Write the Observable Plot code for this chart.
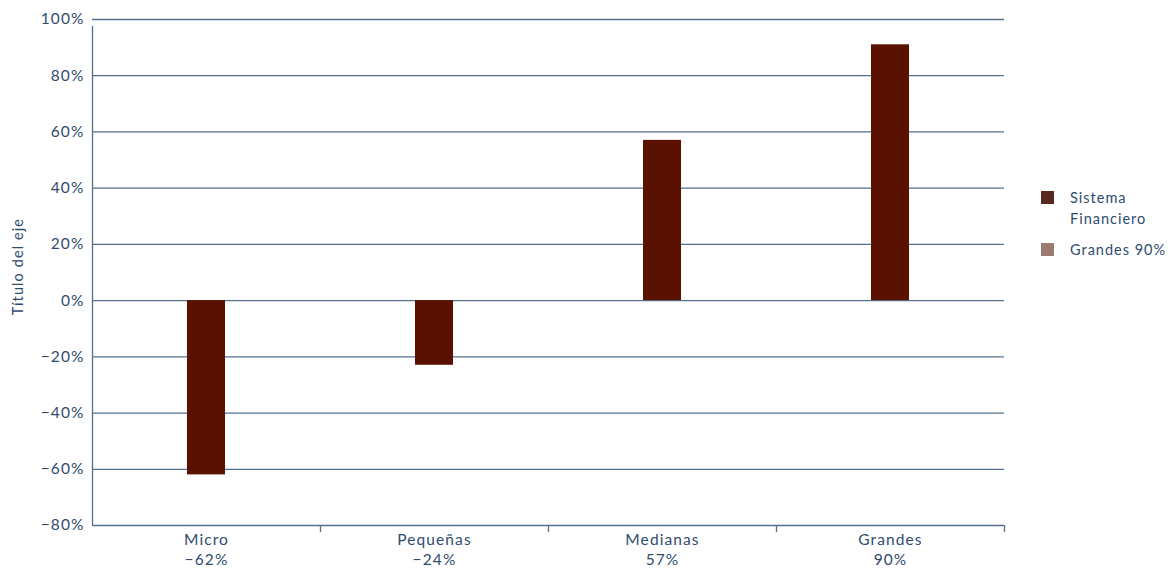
<!DOCTYPE html>
<html>
<head>
<meta charset="utf-8">
<script src="https://cdn.jsdelivr.net/npm/d3@7"></script>
<script src="https://cdn.jsdelivr.net/npm/@observablehq/plot@0.6"></script>
<style>
  body { margin: 0; background: #fff; font-family: Lato, "Open Sans", sans-serif; }
  #wrap { position: relative; width: 1172px; height: 569px; }
  #legend { position: absolute; left: 1041px; top: 187px; color: #2f4b6e; font-size: 14.5px; letter-spacing: 1px; line-height: 21px; }
  .item { display: flex; align-items: flex-start; margin-bottom: 10px; }
  .sw { width: 13px; height: 13px; margin-top: 4px; margin-right: 16px; flex: none; }
</style>
</head>
<body>
<div id="wrap">
  <div id="chart"></div>
  <div id="legend"></div>
</div>
<script>
const categories = ["Micro", "Pequeñas", "Medianas", "Grandes"];
const categoryLabels = ["−62%", "−24%", "57%", "90%"];
const sistemaFinanciero = [-62, -23, 57, 91];
const yTicks = [-80, -60, -40, -20, 0, 20, 40, 60, 80, 100];
const seriesNames = ["Sistema Financiero", "Grandes 90%"];
const seriesColors = ["#57291f", "#9a7a71"];

const data = categories.map((c, i) => ({cat: c, value: sistemaFinanciero[i]}));

const W = 1172, H = 569, ML = 92, MR = 168, MT = 19, MB = 44;
const step = (W - ML - MR) / categories.length;
const ink = "#2f4b6e";
const grid = "#53708c";

const chart = Plot.plot({
  width: W,
  height: H,
  marginLeft: ML,
  marginRight: MR,
  marginTop: MT,
  marginBottom: MB,
  style: {fontFamily: "Lato, 'Open Sans', sans-serif", fontSize: "15.5px", color: ink, letterSpacing: "1.1px"},
  x: {domain: categories, paddingInner: 0.8333, paddingOuter: 0.41667, round: false, label: null},
  y: {domain: [-80, 100], label: null},
  marks: [
    Plot.ruleY(yTicks, {stroke: grid, strokeWidth: 1.3}),
    Plot.ruleX([categories[0]], {x: d => d, dx: -step / 2, y1: -80, y2: 100, stroke: grid, strokeWidth: 1.3, insetBottom: -7}),
    Plot.ruleX(categories.slice(1), {x: d => d, dx: -step / 2, y1: -80, y2: -80, stroke: grid, strokeWidth: 1.3, insetBottom: -7}),
    Plot.ruleX([categories[categories.length - 1]], {x: d => d, dx: step / 2, y1: -80, y2: -80, stroke: grid, strokeWidth: 1.3, insetBottom: -7}),
    Plot.barY(data, {x: "cat", y: "value", fill: "#5a1100"}),
    Plot.axisY({ticks: yTicks, tickSize: 0, tickPadding: 8, tickFormat: d => (d < 0 ? "−" : "") + Math.abs(d) + "%", label: null, fill: ink}),
    Plot.axisX({tickSize: 0, tickPadding: 5, lineHeight: 1.3, tickFormat: d => d + "\n" + categoryLabels[categories.indexOf(d)], label: null, fill: ink}),
    Plot.text(["Título del eje"], {frameAnchor: "left", textAnchor: "middle", rotate: -90, dx: -74, dy: -6, fill: ink, fontSize: 14.5})
  ]
});
document.getElementById("chart").appendChild(chart);

const legend = document.getElementById("legend");
seriesNames.forEach((n, i) => {
  const it = document.createElement("div");
  it.className = "item";
  const sw = document.createElement("div");
  sw.className = "sw";
  sw.style.background = seriesColors[i];
  const t = document.createElement("div");
  t.innerHTML = i === 0 ? "Sistema<br>Financiero" : n;
  it.appendChild(sw); it.appendChild(t);
  legend.appendChild(it);
});
</script>
</body>
</html>
